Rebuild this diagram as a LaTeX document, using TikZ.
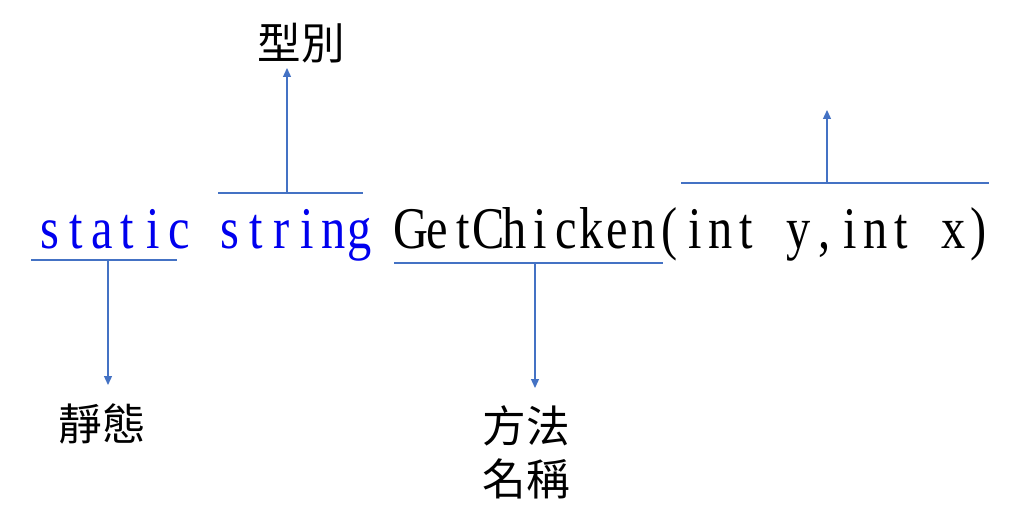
\documentclass[tikz,border=0pt]{standalone}
\usepackage{fontspec}
\setmainfont{Liberation Serif}
\newfontfamily\codefont[FakeStretch=0.82]{Liberation Serif}
\newfontfamily\cjk{Noto Sans CJK TC}
\usetikzlibrary{arrows.meta}
\definecolor{kwblue}{RGB}{0,0,238}
\definecolor{linkblue}{RGB}{68,114,196}
% fixed cell width for the code characters
\newlength\cellw
\setlength\cellw{18.35pt}
\newcommand\codecell[1]{\makebox[\cellw][c]{#1}}
\newcommand\codeline[1]{\codeloop#1\relax}
\def\codeloop#1{\ifx\relax#1\else\codecell{#1}\expandafter\codeloop\fi}

\begin{document}
\begin{tikzpicture}[x=0.025cm, y=-0.025cm,
  every node/.style={inner sep=0pt},
  code/.style={font=\codefont\fontsize{42}{48}\selectfont, anchor=base west},
  kw/.style={code, text=kwblue},
  tag/.style={font=\cjk\fontsize{31}{37.7}\selectfont, align=center},
  bar/.style={draw=linkblue, line width=0.9pt},
  arr/.style={bar, -{Triangle[width=5.7pt,length=6.4pt]}},
]
\useasboundingbox (0,0) rectangle (1024,531);

% code line
\node[kw]   at (37,248)  (static) {\codeline{static}};
\node[kw]   at (217,248) (string) {\codeline{string}};
\node[code] at (398,248) (method) {\codeline{GetChicken(int~y,int~x)}};

% brackets
\draw[bar] (31,260)  -- (177,260);
\draw[bar] (218,193) -- (363,193);
\draw[bar] (394,263) -- (663,263);
\draw[bar] (681,183) -- (989,183);
\coordinate (staticfork) at (108,260);
\coordinate (stringfork) at (287,193);
\coordinate (methodfork) at (535,263);
\coordinate (paramfork)  at (827,183);
\coordinate (paramtip)   at (827,110);

% labels
\node[tag, anchor=south, inner ysep=3pt] at (301,68)  (stringtag) {型別};
\node[tag, anchor=north, inner ysep=13pt] at (102,385) (statictag) {靜態};
\node[tag, anchor=north, inner ysep=12pt] at (526,388) (methodtag) {方法\\名稱};

\draw[arr] (stringfork) -- (stringfork |- stringtag.south);
\draw[arr] (staticfork) -- (staticfork |- statictag.north);
\draw[arr] (methodfork) -- (methodfork |- methodtag.north);
\draw[arr] (paramfork)  -- (paramtip);
\end{tikzpicture}
\end{document}
